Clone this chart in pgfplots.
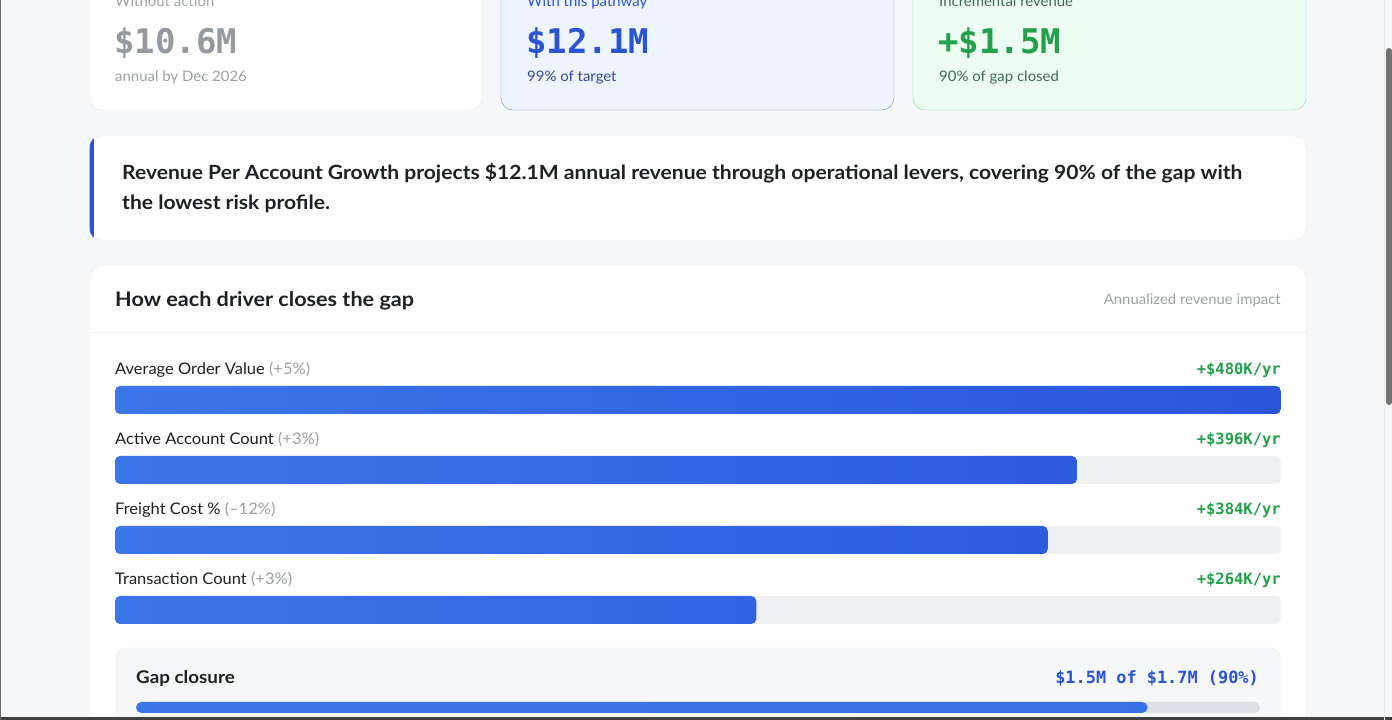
\documentclass[border=0pt]{standalone}
\usepackage{fontspec}
\setmainfont{Lato}[FakeStretch=1.03]
\newfontfamily\sbf{Lato}[FakeStretch=1.075]
\newfontfamily\mono{DejaVu Sans Mono}
\usepackage{pgfplots}
\usepackage{pgfplotstable}
\pgfplotsset{compat=1.18}
\definecolor{pagebg}{HTML}{F5F7F9}
\definecolor{cardborder}{HTML}{E6E8EB}
\definecolor{ink}{HTML}{1D2025}
\definecolor{muted}{HTML}{9CA1A8}
\definecolor{numgray}{HTML}{959AA1}
\definecolor{blueA}{HTML}{2A54D2}
\definecolor{blueSub}{HTML}{34489A}
\definecolor{blueBg}{HTML}{EEF4FD}
\definecolor{blueBorder}{HTML}{6A8EDA}
\definecolor{greenA}{HTML}{22A04A}
\definecolor{greenSub}{HTML}{3F6B50}
\definecolor{greenBg}{HTML}{EDFDF2}
\definecolor{greenBorder}{HTML}{7FD99B}
\definecolor{track}{HTML}{EEF0F2}
\definecolor{track2}{HTML}{DDE1E5}
\definecolor{barL}{HTML}{3B76E9}
\definecolor{barR}{HTML}{2A55DA}
\definecolor{gapbg}{HTML}{F5F7F9}
\newcommand{\fs}[1]{\fontsize{#1}{#1}\selectfont}

% driver impacts, $K per year (top to bottom at y = 4,3,2,1)
\pgfplotstableread{
y  impact full
4  480    480
3  396    480
2  384    480
1  264    480
}\drivers

\begin{document}
\begin{tikzpicture}[x=1pt,y=1pt]
\useasboundingbox (0,0) rectangle (1392,720);
\clip (0,0) rectangle (1392,720);
\fill[pagebg] (0,0) rectangle (1392,720);

% ---- top cards ----
\draw[cardborder, fill=white, rounded corners=12] (90,720-110) rectangle (482,760);
\draw[blueBorder, fill=blueBg, rounded corners=12] (501,720-110) rectangle (894,760);
\draw[greenBorder, fill=greenBg, rounded corners=12] (913,720-110) rectangle (1306,760);

\node[anchor=base west, inner sep=0, text=muted, font=\fs{14.5}] at (115,720-6.5) {Without action};
\node[anchor=base west, inner sep=0, text=numgray, font=\mono\bfseries\fs{34}] at (114,720-54) {\$10.6M};
\node[anchor=base west, inner sep=0, text=muted, font=\fs{14.5}] at (115,720-82) {annual by Dec 2026};

\node[anchor=base west, inner sep=0, text=blueA, font=\fs{14.5}] at (527,720-6.5) {With this pathway};
\node[anchor=base west, inner sep=0, text=blueA, font=\mono\bfseries\fs{34}] at (526,720-54) {\$12.1M};
\node[anchor=base west, inner sep=0, text=blueSub, font=\fs{14.5}] at (527,720-82) {99\% of target};

\node[anchor=base west, inner sep=0, text=greenSub, font=\fs{14.5}] at (939,720-6.5) {Incremental revenue};
\node[anchor=base west, inner sep=0, text=greenA, font=\mono\bfseries\fs{34}] at (938,720-54) {+\$1.5M};
\node[anchor=base west, inner sep=0, text=greenSub, font=\fs{14.5}] at (939,720-82) {90\% of gap closed};

% ---- insight box ----
\draw[cardborder, fill=white, rounded corners=12] (90,720-240) rectangle (1306,720-136);
\begin{scope}
\clip[rounded corners=12] (89.5,720-240.5) rectangle (1306,720-135.5);
\fill[blueA] (89,720-241) rectangle (93.5,720-135);
\end{scope}
\node[anchor=base west, inner sep=0, text=ink, font=\sbf\bfseries\fs{19.6}] at (122,720-180) {Revenue Per Account Growth projects \$12.1M annual revenue through operational levers, covering 90\% of the gap with};
\node[anchor=base west, inner sep=0, text=ink, font=\sbf\bfseries\fs{19.6}] at (122,720-210) {the lowest risk profile.};

% ---- main card ----
\draw[cardborder, fill=white, rounded corners=14] (90,-40) rectangle (1306,720-265);
\draw[track, line width=1pt] (90.5,720-333) -- (1305.5,720-333);
\node[anchor=base west, inner sep=0, text=ink, font=\sbf\bfseries\fs{20.1}] at (115,720-306.5) {How each driver closes the gap};
\node[anchor=base east, inner sep=0, text=muted, font=\fs{14.5}] at (1281,720-304.5) {Annualized revenue impact};

\node[anchor=base west, inner sep=0, font=\fs{16}] at (115,720-374.5) {\textcolor{ink}{Average Order Value} \textcolor{muted}{(+5\%)}};
\node[anchor=base west, inner sep=0, font=\fs{16}] at (115,720-444.5) {\textcolor{ink}{Active Account Count} \textcolor{muted}{(+3\%)}};
\node[anchor=base west, inner sep=0, font=\fs{16}] at (115,720-514.5) {\textcolor{ink}{Freight Cost \%} \textcolor{muted}{(--12\%)}};
\node[anchor=base west, inner sep=0, font=\fs{16}] at (115,720-584.5) {\textcolor{ink}{Transaction Count} \textcolor{muted}{(+3\%)}};

\node[anchor=base east, inner sep=0, text=greenA, font=\mono\bfseries\fs{15.5}] at (1281,720-374.5) {+\$480K/yr};
\node[anchor=base east, inner sep=0, text=greenA, font=\mono\bfseries\fs{15.5}] at (1281,720-444.5) {+\$396K/yr};
\node[anchor=base east, inner sep=0, text=greenA, font=\mono\bfseries\fs{15.5}] at (1281,720-514.5) {+\$384K/yr};
\node[anchor=base east, inner sep=0, text=greenA, font=\mono\bfseries\fs{15.5}] at (1281,720-584.5) {+\$264K/yr};

\begin{axis}[at={(115pt,75pt)}, anchor=south west, scale only axis,
  width=1166pt, height=280pt, xmin=0, xmax=480, ymin=0.5, ymax=4.5,
  hide axis, clip=false, xbar, bar width=28pt, bar shift=0pt]
  \addplot[draw=none, fill=track, rounded corners=5pt] table[x=full, y=y] {\drivers};
  \addplot[draw=none, left color=barL, right color=barR, rounded corners=5pt] table[x=impact, y=y] {\drivers};
\end{axis}

% ---- gap closure ----
\draw[cardborder, fill=gapbg, rounded corners=10] (116,-40) rectangle (1280,720-648);
\node[anchor=base west, inner sep=0, text=ink, font=\sbf\bfseries\fs{17.5}] at (136,720-684) {Gap closure};
\node[anchor=base east, inner sep=0, text=blueA, font=\mono\bfseries\fs{16.9}] at (1259,720-684) {\$1.5M of \$1.7M (90\%)};

\begin{axis}[at={(136pt,7pt)}, anchor=south west, scale only axis,
  width=1124pt, height=11pt, xmin=0, xmax=100, ymin=0.5, ymax=1.5,
  hide axis, clip=false, xbar, bar width=11pt, bar shift=0pt]
  \addplot[draw=none, fill=track2, rounded corners=5.5pt] coordinates {(100,1)};
  \addplot[draw=none, left color=barL, right color=barL!85!barR, rounded corners=5.5pt] coordinates {(90,1)};
\end{axis}

% ---- window chrome ----
\fill[black!75] (0,0) rectangle (1392,2.5);
\fill[black!60] (0,0) rectangle (1,720);
\draw[black!8] (1384,0) -- (1384,720);
\fill[black!55, rounded corners=3] (1386,720-405) rectangle (1392,720-48);
\end{tikzpicture}
\end{document}
